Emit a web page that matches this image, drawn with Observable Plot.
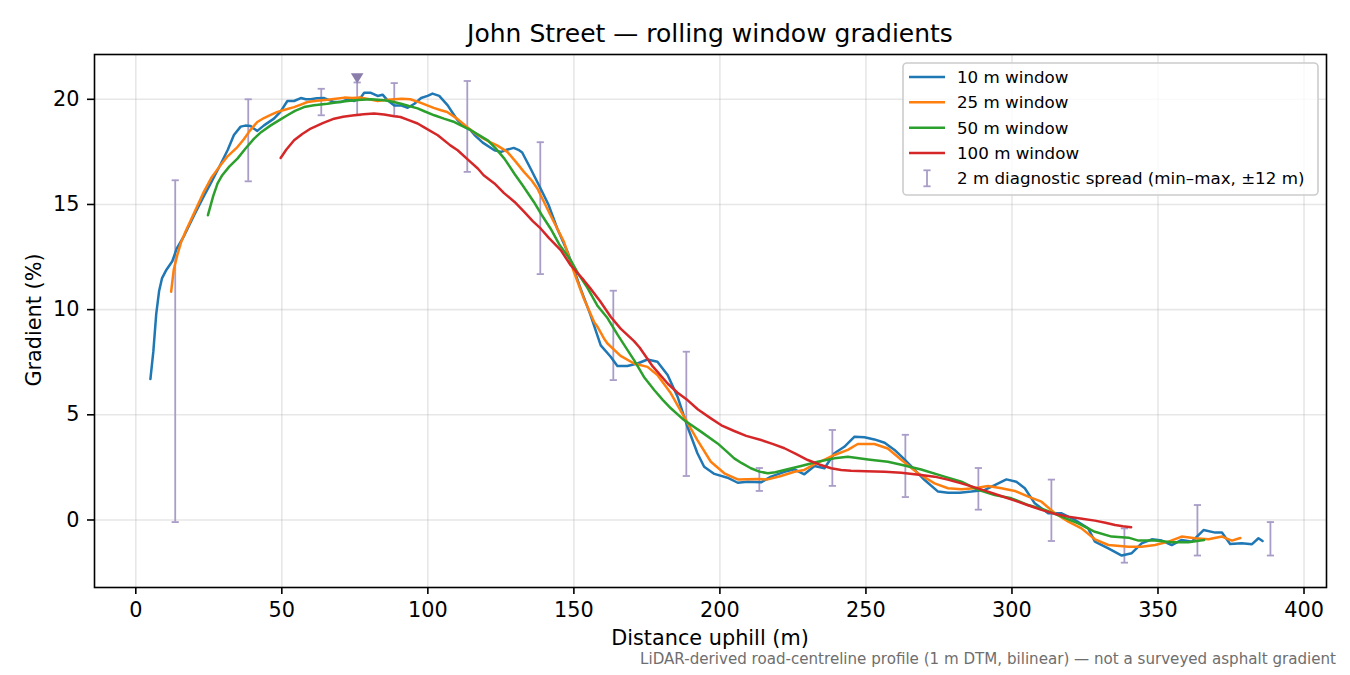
<!DOCTYPE html>
<html><head><meta charset="utf-8">
<script src="https://cdn.jsdelivr.net/npm/d3@7"></script>
<script src="https://cdn.jsdelivr.net/npm/@observablehq/plot@0.6"></script>
<style>body{margin:0;background:#fff;} svg{display:block}</style>
</head><body><div id="chart"></div>
<script>
// ---- data (distance m, gradient %) ----
const w10 = [[5,6.7],[6,8.0],[7,9.8],[8,10.9],[9,11.5],[10.5,11.9],[12.5,12.3],[14,12.9],[16.5,13.5],[20,14.5],[23.3,15.4],[26,16.1],[29,16.9],[31.5,17.6],[33.6,18.3],[35.9,18.7],[37.5,18.75],[39.3,18.73],[40.5,18.6],[41.6,18.5],[43.9,18.76],[47.3,19.08],[49.5,19.4],[51.9,19.92],[54.2,19.92],[56.5,20.06],[58.2,20.0],[59.9,20.0],[62,20.05],[64.5,20.06],[66.5,19.95],[67.9,19.87],[70.2,19.87],[72.5,20.0],[74.8,19.92],[77.1,20.1],[78.2,20.31],[80.5,20.31],[82.8,20.16],[84.5,20.22],[86.2,19.95],[88.5,19.71],[90.8,19.71],[93.1,19.6],[95.4,19.79],[97.7,20.06],[99.9,20.16],[101.6,20.27],[103.9,20.16],[106.8,19.71],[108.5,19.35],[110.2,19.0],[112.5,18.7],[114.6,18.53],[116,18.3],[118.8,17.94],[122.8,17.58],[125.1,17.5],[127,17.6],[129.4,17.69],[131,17.6],[132.3,17.47],[135.2,16.7],[138.6,15.76],[141.4,14.96],[144.3,13.86],[147.8,12.75],[149.5,12.11],[152.3,11.0],[155.7,9.74],[159.2,8.3],[162.6,7.76],[164.9,7.32],[168.3,7.32],[171.8,7.44],[175.2,7.63],[178.6,7.52],[182.1,6.89],[185.5,5.86],[188.9,4.43],[192.3,3.17],[194.6,2.53],[198.1,2.19],[202.6,2.01],[206.1,1.77],[209.5,1.82],[214.1,1.79],[217.5,2.06],[222.1,2.29],[225.5,2.41],[228.9,2.17],[232.4,2.57],[235.8,2.46],[239.2,3.17],[242.6,3.48],[246.1,3.96],[249.5,3.93],[252.9,3.83],[256.4,3.67],[259.8,3.33],[263.2,2.88],[266.7,2.38],[270.1,1.9],[274.7,1.35],[278.1,1.3],[282.1,1.3],[286.1,1.35],[290.7,1.43],[294.1,1.66],[298.1,1.93],[301.5,1.82],[304.4,1.51],[307.8,0.79],[312.4,0.32],[317,0.32],[321.6,0.0],[326.1,-0.4],[328.4,-1.03],[333,-1.35],[337.6,-1.69],[341,-1.58],[344.4,-1.11],[347.9,-0.92],[351.3,-0.98],[354.7,-1.19],[358.1,-0.95],[361.6,-1.03],[365.6,-0.48],[369.6,-0.6],[371.9,-0.6],[374.7,-1.14],[378.7,-1.11],[382.2,-1.15],[384.4,-0.87],[385.8,-1.0]];

const w25 = [[12.1,10.85],[13,11.9],[14.2,12.59],[15.5,13.2],[17,13.7],[20,14.6],[23.3,15.6],[26,16.3],[29,16.86],[31.5,17.3],[34.8,17.73],[37,18.1],[39,18.5],[41.6,18.92],[43.9,19.11],[46,19.25],[48.5,19.4],[51,19.5],[54.2,19.63],[56.5,19.75],[58.8,19.87],[62,19.93],[65.6,19.98],[68.5,20.03],[71.4,20.08],[74,20.06],[77.1,20.08],[80,20.0],[82.8,19.92],[85.5,19.97],[88.5,20.0],[91,20.03],[94,20.0],[97.4,19.84],[100,19.7],[102,19.59],[104.5,19.48],[106.6,19.4],[110,19.08],[113.4,18.68],[116,18.4],[119.1,18.13],[121.5,17.95],[123.7,17.81],[127.2,17.5],[130,17.05],[132.9,16.55],[135.5,16.15],[137.5,15.76],[142,14.49],[146.6,13.22],[150,11.8],[153.4,10.53],[156.9,9.42],[158,9.2],[160.3,8.63],[161.5,8.39],[166,7.8],[170.6,7.44],[175.2,7.28],[178.6,6.89],[183.2,6.02],[187.7,4.91],[192.3,3.8],[196.9,2.77],[201.5,2.22],[206.1,1.93],[212.9,1.95],[216.4,1.93],[220.9,2.09],[225.5,2.29],[228.9,2.38],[232.4,2.65],[235.5,2.85],[239.2,3.09],[243.8,3.33],[247.2,3.61],[252.9,3.61],[257.5,3.4],[262.1,2.86],[267.8,2.22],[273.5,1.74],[278.1,1.51],[282.7,1.46],[287.2,1.51],[291.8,1.62],[296.4,1.51],[301,1.38],[305.6,1.11],[310.1,0.87],[314.7,0.32],[319.3,-0.08],[323.8,-0.4],[328.4,-0.92],[333,-1.19],[339.9,-1.27],[344.4,-1.27],[349,-1.19],[353.6,-1.03],[358.1,-0.79],[362.7,-0.87],[367.3,-0.92],[371.9,-0.79],[375.3,-0.98],[378.2,-0.86]];

const w50 = [[24.7,14.49],[26.5,15.4],[28,16.0],[29.6,16.39],[32,16.8],[34.8,17.18],[37.5,17.65],[40.5,18.13],[43,18.45],[46.2,18.76],[49,19.0],[51.9,19.24],[54.5,19.45],[57.6,19.63],[61,19.72],[65.6,19.79],[69,19.86],[72.5,19.92],[76,19.97],[80.5,20.0],[85.1,19.95],[88,19.88],[90.8,19.79],[93.5,19.68],[96.5,19.57],[99,19.42],[102.2,19.24],[105.5,19.08],[109.1,18.92],[111.5,18.75],[114.8,18.53],[117.5,18.3],[120.5,18.05],[123,17.7],[126.2,17.18],[129.7,16.45],[132.5,15.9],[136.3,15.12],[139,14.5],[142,13.86],[145,13.1],[148.9,12.35],[151.5,11.7],[154.6,11.05],[158,10.2],[161.5,9.6],[165,8.8],[170.6,7.6],[174,6.8],[177.5,6.18],[180.5,5.7],[183.2,5.31],[187.7,4.75],[193.5,4.2],[199.2,3.64],[202,3.3],[204.9,2.93],[207.5,2.7],[210.6,2.46],[213.5,2.3],[216.4,2.22],[219,2.27],[222.1,2.38],[227.8,2.57],[233.5,2.77],[239.2,2.93],[243.8,3.01],[247,2.95],[250.7,2.88],[257.5,2.77],[262.1,2.63],[268.9,2.4],[276.9,2.06],[282.7,1.82],[288.4,1.43],[294.1,1.19],[299.8,1.03],[305.6,0.71],[311.3,0.48],[317,0.16],[322.7,-0.16],[328.4,-0.56],[334.1,-0.79],[339.9,-0.84],[343.3,-0.98],[349,-0.98],[354.7,-1.06],[360.4,-1.06],[365.8,-0.95]];

const w100 = [[49.6,17.21],[51.5,17.6],[54.2,18.05],[57,18.35],[59.9,18.61],[64,18.87],[67.9,19.08],[71,19.17],[74.8,19.24],[78,19.29],[81.6,19.32],[85,19.28],[88.5,19.19],[90.6,19.16],[93,19.03],[96.5,18.85],[98.6,18.68],[103.4,18.29],[107.7,17.81],[110.2,17.58],[114,17.1],[117.1,16.71],[119.1,16.39],[122.8,16.0],[126,15.55],[129.7,15.12],[133,14.65],[136,14.2],[138.6,13.86],[141.5,13.4],[145.5,12.83],[148.9,12.11],[153.4,11.4],[155.7,11.0],[159,10.4],[162.6,9.66],[166,9.1],[170.6,8.5],[172.5,8.2],[177,7.3],[182.1,6.49],[185.5,6.05],[188.9,5.7],[192.5,5.25],[196.9,4.83],[200.5,4.5],[204.9,4.23],[209,4.0],[214.1,3.8],[218,3.62],[222.1,3.41],[226,3.14],[230.1,2.85],[234,2.64],[238.1,2.46],[241.5,2.38],[244.9,2.34],[250,2.32],[256.4,2.29],[262.1,2.25],[268.9,2.14],[273.5,2.06],[278,1.92],[282.7,1.74],[287,1.56],[291.8,1.35],[296.5,1.13],[301,0.92],[305.5,0.7],[310.1,0.48],[314.5,0.3],[319.3,0.16],[324,0.06],[328.4,-0.03],[332,-0.13],[335.3,-0.24],[338,-0.3],[340.8,-0.35]];

const spreadX  = [13.5, 38.5, 63.5, 75.8, 88.5, 113.5, 138.5, 163.5, 188.5, 213.5, 238.5, 263.5, 288.5, 313.5, 338.5, 363.5, 388.5];
const spreadLo = [-0.1, 16.1, 19.24, 19.24, 19.2, 16.55, 11.69, 6.65, 2.09, 1.38, 1.62, 1.09, 0.49, -1.0, -2.03, -1.69, -1.69];
const spreadHi = [16.15, 20.0, 20.5, 20.8, 20.77, 20.87, 17.96, 10.9, 8.0, 2.47, 4.28, 4.05, 2.47, 1.92, -0.4, 0.71, -0.1];

const peakX = [75.8];
const peakY = [21.0];

const xTicks = [0, 50, 100, 150, 200, 250, 300, 350, 400];
const yTicks = [0, 5, 10, 15, 20];
const seriesNames = ["10 m window", "25 m window", "50 m window", "100 m window"];
const seriesColors = ["#1f77b4", "#ff7f0e", "#2ca02c", "#d62728"];
const spreadLabel = "2 m diagnostic spread (min–max, ±12 m)";
const titleText = "John Street — rolling window gradients";
const xLabel = "Distance uphill (m)";
const yLabel = "Gradient (%)";
const captionText = "LiDAR-derived road-centreline profile (1 m DTM, bilinear) — not a surveyed asphalt gradient";

// ---- build ----
const series = [w10, w25, w50, w100];
const lineData = series.flatMap((s, i) => s.map(([x, y]) => ({x, y, s: seriesNames[i]})));
const spread = spreadX.map((x, i) => ({x, lo: spreadLo[i], hi: spreadHi[i]}));
const peak = peakX.map((x, i) => ({x, y: peakY[i]}));

const errColor = "#a99dc7";
const markColor = "#8b7dab";
const lw = 2.5;
const capSym = {draw(ctx) { ctx.moveTo(-3.6, 0); ctx.lineTo(3.6, 0); }};
const triSym = {draw(ctx) { ctx.moveTo(-6.3, -5); ctx.lineTo(6.3, -5); ctx.lineTo(0, 5.2); ctx.closePath(); }};

const plot = Plot.plot({
  width: 1350, height: 675,
  marginTop: 54, marginRight: 24, marginBottom: 88, marginLeft: 94,
  style: {fontFamily: "DejaVu Sans", fontSize: "20.8px", background: "#fff", color: "#000", overflow: "visible"},
  x: {domain: [-14.14, 407.7]},
  y: {domain: [-3.21, 22.13]},
  color: {domain: seriesNames, range: seriesColors},
  marks: [
    Plot.gridX({ticks: xTicks, stroke: "#b0b0b0", strokeOpacity: 0.3, strokeWidth: 1.6}),
    Plot.gridY({ticks: yTicks, stroke: "#b0b0b0", strokeOpacity: 0.3, strokeWidth: 1.6}),
    Plot.ruleX(spread, {x: "x", y1: "lo", y2: "hi", stroke: errColor, strokeWidth: 1.8}),
    Plot.dot(spread, {x: "x", y: "lo", symbol: capSym, stroke: errColor, strokeWidth: 1.8, r: 3}),
    Plot.dot(spread, {x: "x", y: "hi", symbol: capSym, stroke: errColor, strokeWidth: 1.8, r: 3}),
    Plot.line(lineData, {x: "x", y: "y", z: "s", stroke: "s", strokeWidth: lw, curve: "linear"}),
    Plot.dot(peak, {x: "x", y: "y", symbol: triSym, fill: markColor, stroke: "none", r: 5}),
    Plot.axisX({ticks: xTicks, tickSize: 7, tickPadding: 8, strokeWidth: 1.6, label: null, fontSize: 20.8}),
    Plot.axisY({ticks: yTicks, tickSize: 7, tickPadding: 8, strokeWidth: 1.6, label: null, fontSize: 20.8}),
    Plot.frame({stroke: "#000", strokeWidth: 1.6})
  ]
});
document.getElementById("chart").appendChild(plot);

// ---- annotations: title, labels, caption, legend ----
const svg = d3.select(plot);
const ff = "DejaVu Sans";
svg.append("text").attr("x", 710).attr("y", 42).attr("text-anchor", "middle")
  .attr("font-family", ff).attr("font-size", 25).attr("fill", "#000").text(titleText);
svg.append("text").attr("x", 710).attr("y", 645).attr("text-anchor", "middle")
  .attr("font-family", ff).attr("font-size", 20.8).attr("fill", "#000").text(xLabel);
svg.append("text").attr("transform", "translate(41,320) rotate(-90)").attr("text-anchor", "middle")
  .attr("font-family", ff).attr("font-size", 20.8).attr("fill", "#000").text(yLabel);
svg.append("text").attr("x", 1336).attr("y", 664).attr("text-anchor", "end")
  .attr("font-family", ff).attr("font-size", 15.1).attr("fill", "#6e6e6e").text(captionText);

const lg = svg.append("g");
lg.append("rect").attr("x", 903).attr("y", 63).attr("width", 415).attr("height", 132).attr("rx", 4)
  .attr("fill", "#fff").attr("fill-opacity", 0.8).attr("stroke", "#cccccc").attr("stroke-width", 1.6);
const rows = [77, 102.3, 127.7, 153, 178.3];
seriesNames.forEach((name, i) => {
  lg.append("line").attr("x1", 909).attr("x2", 945).attr("y1", rows[i]).attr("y2", rows[i])
    .attr("stroke", seriesColors[i]).attr("stroke-width", lw);
  lg.append("text").attr("x", 957).attr("y", rows[i] + 6).attr("text-anchor", "start")
    .attr("font-family", ff).attr("font-size", 16.7).attr("fill", "#000").text(name);
});
const ey = rows[4];
lg.append("line").attr("x1", 927).attr("x2", 927).attr("y1", ey - 8).attr("y2", ey + 8).attr("stroke", errColor).attr("stroke-width", 1.8);
lg.append("line").attr("x1", 923.4).attr("x2", 930.6).attr("y1", ey - 8).attr("y2", ey - 8).attr("stroke", errColor).attr("stroke-width", 1.8);
lg.append("line").attr("x1", 923.4).attr("x2", 930.6).attr("y1", ey + 8).attr("y2", ey + 8).attr("stroke", errColor).attr("stroke-width", 1.8);
lg.append("text").attr("x", 957).attr("y", ey + 6).attr("text-anchor", "start")
  .attr("font-family", ff).attr("font-size", 16.7).attr("fill", "#000").text(spreadLabel);
</script>
</body></html>
